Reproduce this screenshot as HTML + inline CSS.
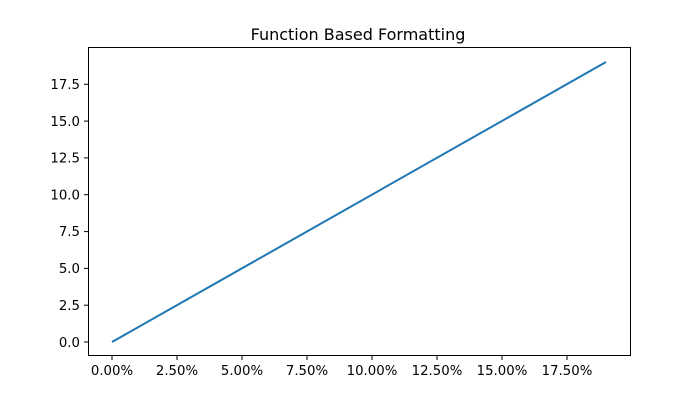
<!DOCTYPE html>
<html><head><meta charset="utf-8"><style>body{margin:0;background:#fff}svg{display:block}text{font-family:"DejaVu Sans","Liberation Sans",sans-serif;font-size:13.3px;fill:#000}</style></head><body>
<svg width="700" height="400" viewBox="0 0 700 400" xmlns="http://www.w3.org/2000/svg">
<rect width="700" height="400" fill="#fff"/>
<text x="358" y="40" text-anchor="middle" style="font-size:16px">Function Based Formatting</text>
<polyline points="112,342 606,62" fill="none" stroke="#1f77b4" stroke-width="2"/>
<rect x="88.5" y="47.5" width="542" height="308" fill="none" stroke="#000" stroke-width="1"/>
<g stroke="#000">
<line x1="112" y1="356" x2="112" y2="360"/><line x1="177" y1="356" x2="177" y2="360"/><line x1="242" y1="356" x2="242" y2="360"/><line x1="307" y1="356" x2="307" y2="360"/><line x1="372" y1="356" x2="372" y2="360"/><line x1="437" y1="356" x2="437" y2="360"/><line x1="502" y1="356" x2="502" y2="360"/><line x1="567" y1="356" x2="567" y2="360"/>
<line x1="84" y1="342" x2="88" y2="342"/><line x1="84" y1="305.2" x2="88" y2="305.2"/><line x1="84" y1="268.4" x2="88" y2="268.4"/><line x1="84" y1="231.6" x2="88" y2="231.6"/><line x1="84" y1="194.7" x2="88" y2="194.7"/><line x1="84" y1="157.9" x2="88" y2="157.9"/><line x1="84" y1="121.1" x2="88" y2="121.1"/><line x1="84" y1="84.3" x2="88" y2="84.3"/>
</g>
<g text-anchor="middle">
<text x="112" y="375">0.00%</text><text x="177" y="375">2.50%</text><text x="242" y="375">5.00%</text><text x="307" y="375">7.50%</text><text x="372" y="375">10.00%</text><text x="437" y="375">12.50%</text><text x="502" y="375">15.00%</text><text x="567" y="375">17.50%</text>
</g>
<g text-anchor="end">
<text x="80" y="347">0.0</text><text x="80" y="310">2.5</text><text x="80" y="273">5.0</text><text x="80" y="236">7.5</text><text x="80" y="199.5">10.0</text><text x="80" y="162.5">12.5</text><text x="80" y="126">15.0</text><text x="80" y="89">17.5</text>
</g>
</svg>
</body></html>
